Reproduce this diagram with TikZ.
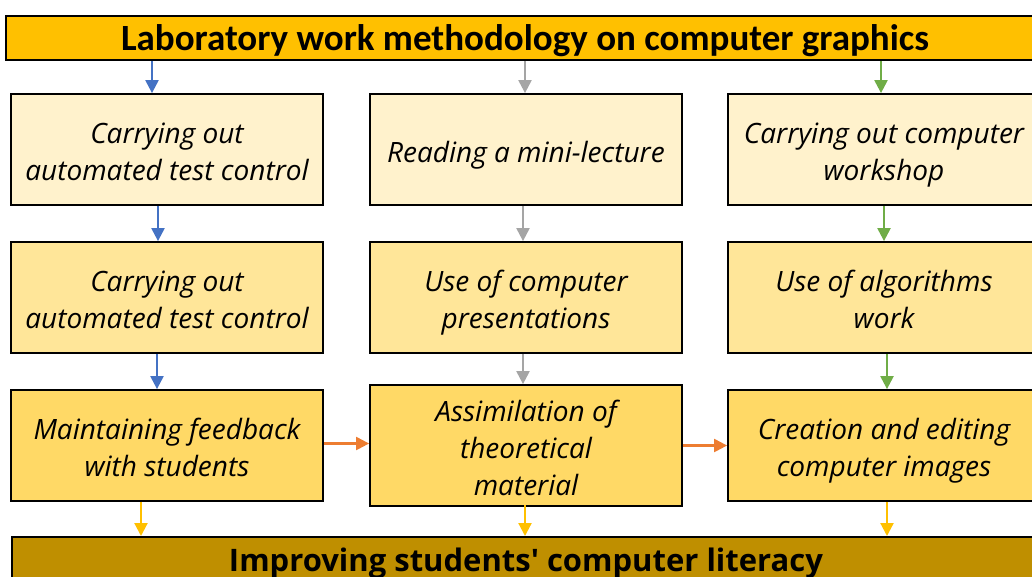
\documentclass[tikz,border=0pt]{standalone}
\usepackage{fontspec}
\setmainfont{Open Sans}
\newfontfamily\titlefont{Carlito}
\newfontfamily\bodyfont{Open Sans}
\usetikzlibrary{arrows.meta,calc}
\definecolor{cTitle}{HTML}{FFC000}
\definecolor{cBottom}{HTML}{BF8F00}
\definecolor{cRowA}{HTML}{FFF2CC}
\definecolor{cRowB}{HTML}{FFE699}
\definecolor{cRowC}{HTML}{FFD966}
\definecolor{cBlue}{HTML}{4472C4}
\definecolor{cGray}{HTML}{A5A5A5}
\definecolor{cGreen}{HTML}{70AD47}
\definecolor{cOrange}{HTML}{ED7D31}
\definecolor{cYellow}{HTML}{FFC000}
\newcommand\topst{\rule{0pt}{36pt}}
\newcommand\botst{\rule[-11pt]{0pt}{11pt}}
\tikzset{
  x=1pt, y=-1pt,
  stepbox/.style={draw=black, line width=1.8pt, minimum width=312pt, minimum height=111pt,
    inner sep=0pt, align=center, font=\bodyfont\itshape\fontsize{28}{37}\selectfont},
  banner/.style={draw=black, line width=1.8pt, inner sep=0pt},
  conn/.style={line width=2.2pt, -{Triangle[length=13pt,width=13pt]}},
}
\begin{document}
\begin{tikzpicture}
\useasboundingbox (0,0) rectangle (1032,576);
\clip (0,0) rectangle (1032,576);
% banners
\node[banner, fill=cTitle, minimum width=1040pt, minimum height=44pt, anchor=north west] (title) at (5,15) {};
\node at (525,41) [font=\titlefont\bfseries\fontsize{37}{40}\selectfont] (titletext) {Laboratory work methodology on computer graphics};
\node[banner, fill=cBottom, minimum width=1040pt, minimum height=60pt, anchor=north west] (bottom) at (11,536) {};
\node at (526,563) [font=\bodyfont\bfseries\fontsize{31}{34}\selectfont] (bottomtext) {Improving students' computer literacy};
% row 1
\node[stepbox, fill=cRowA] (a1) at (167,149.5) {\topst Carrying out\\automated test control\botst};
\node[stepbox, fill=cRowA] (a2) at (526,149.5) {\topst Reading a mini-lecture\botst};
\node[stepbox, fill=cRowA] (a3) at (884,149.5) {\topst Carrying out computer\\workshop\botst};
% row 2
\node[stepbox, fill=cRowB] (b1) at (167,297.5) {\topst Carrying out\\automated test control\botst};
\node[stepbox, fill=cRowB] (b2) at (526,297.5) {\topst Use of computer\\presentations\botst};
\node[stepbox, fill=cRowB] (b3) at (884,297.5) {\topst Use of algorithms\\work\botst};
% row 3
\node[stepbox, fill=cRowC] (c1) at (167,445.5) {\topst Maintaining feedback\\with students\botst};
\node[stepbox, fill=cRowC] (c2) at (526,445.5) {\topst Assimilation of\\theoretical\\material\botst};
\node[stepbox, fill=cRowC] (c3) at (884,445.5) {\topst Creation and editing\\computer images\botst};
% top arrows
\draw[conn, cBlue] ([xshift=-15pt]a1.north |- title.south) -- ([xshift=-15pt]a1.north);
\draw[conn, cGray] ([xshift=-1pt]a2.north |- title.south) -- ([xshift=-1pt]a2.north);
\draw[conn, cGreen] ([xshift=-3pt]a3.north |- title.south) -- ([xshift=-3pt]a3.north);
% row1 -> row2
\draw[conn, cBlue] ([xshift=-9pt]a1.south) -- ([xshift=-9pt]b1.north);
\draw[conn, cGray] ([xshift=-3pt]a2.south) -- ([xshift=-3pt]b2.north);
\draw[conn, cGreen] (a3.south) -- (b3.north);
% row2 -> row3
\draw[conn, cBlue] ([xshift=-10pt]b1.south) -- ([xshift=-10pt]c1.north);
\draw[conn, cGray] ([xshift=-3pt]b2.south) -- ([xshift=-3pt]c2.north);
\draw[conn, cGreen] ([xshift=3pt]b3.south) -- ([xshift=3pt]c3.north);
% horizontal
\draw[conn, cOrange] ([yshift=2pt]c1.east) -- ([yshift=2pt]c2.west);
\draw[conn, cOrange] (c2.east) -- (c3.west);
% to bottom
\draw[conn, cYellow] ([xshift=-26pt]c1.south) -- ([xshift=-26pt]c1.south |- bottom.north);
\draw[conn, cYellow] ([xshift=-1pt,yshift=2pt]c2.south) -- ([xshift=-1pt]c2.south |- bottom.north);
\draw[conn, cYellow] ([xshift=3pt]c3.south) -- ([xshift=3pt]c3.south |- bottom.north);
\end{tikzpicture}
\end{document}
